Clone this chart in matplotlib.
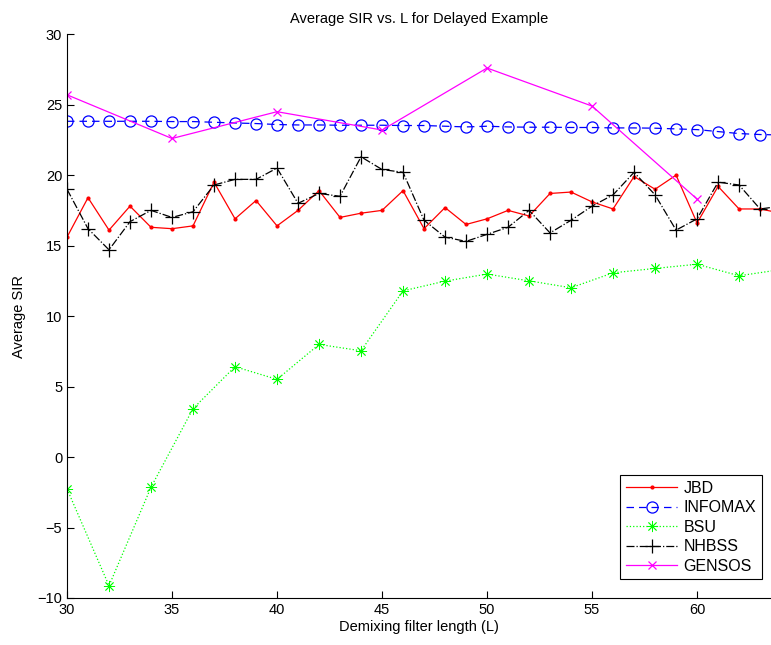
import numpy as np
import matplotlib.pyplot as plt

plt.rcParams['font.family'] = ['Liberation Sans', 'DejaVu Sans']
plt.rcParams['font.size'] = 10.5

# filter lengths
L_all = np.arange(30, 65)
L_bsu = np.arange(30, 65, 2)
L_gen = np.arange(30, 61, 5)

jbd = [15.6, 18.4, 16.1, 17.8, 16.3, 16.2, 16.4, 19.5, 16.9, 18.2,
       16.4, 17.5, 18.9, 17.0, 17.3, 17.5, 18.9, 16.2, 17.7, 16.5,
       16.9, 17.5, 17.1, 18.7, 18.8, 18.1, 17.6, 19.9, 19.0, 20.0,
       16.6, 19.2, 17.6, 17.6, 17.3]
infomax = [23.82, 23.82, 23.82, 23.82, 23.82, 23.80, 23.80, 23.75, 23.70, 23.66,
           23.59, 23.56, 23.56, 23.54, 23.54, 23.54, 23.52, 23.52, 23.47, 23.42,
           23.47, 23.42, 23.40, 23.40, 23.38, 23.38, 23.35, 23.35, 23.33, 23.28,
           23.23, 23.09, 22.95, 22.88, 22.85]
bsu = [-2.26, -9.13, -2.14, 3.43, 6.41, 5.51, 7.99, 7.54, 11.79, 12.48,
       12.98, 12.50, 12.01, 13.07, 13.38, 13.68, 12.86, 13.3]
nhbss = [19.0, 16.2, 14.7, 16.7, 17.5, 17.0, 17.4, 19.3, 19.7, 19.7,
         20.5, 18.0, 18.7, 18.5, 21.3, 20.4, 20.2, 16.8, 15.6, 15.3,
         15.8, 16.3, 17.5, 15.9, 16.8, 17.8, 18.6, 20.2, 18.6, 16.1,
         16.9, 19.5, 19.3, 17.6, 17.8]
gensos = [25.7, 22.6, 24.5, 23.2, 27.6, 24.9, 18.3]

fig = plt.figure(figsize=(7.71, 6.45), dpi=100)
ax = fig.add_axes([0.0869, 0.0729, 0.9131, 0.8741])

# 8-armed asterisk like the classic '*' marker
asterisk = (8, 2, 0)

ax.plot(L_all, jbd, '-', color='#ff0000', lw=0.9, marker='.', ms=4, label='JBD')
ax.plot(L_all, infomax, '--', color='#0000ff', lw=0.9, marker='o', ms=8,
        mfc='none', mew=0.9, dashes=(6, 4), label='INFOMAX')
ax.plot(L_bsu, bsu, ':', color='#00ff00', lw=0.9, marker=asterisk, ms=8,
        mew=0.6, label='BSU')
ax.plot(L_all, nhbss, '-.', color='black', lw=0.9, marker='+', ms=10,
        mew=0.9, label='NHBSS')
ax.plot(L_gen, gensos, '-', color='#ff00ff', lw=0.9, marker='x', ms=6,
        mew=0.9, label='GENSOS')

ax.set_xlim(30, 63.52)
ax.set_ylim(-10, 30)
ax.set_xticks(np.arange(30, 61, 5))
ax.set_yticks(np.arange(-10, 31, 5))
ax.tick_params(direction='in', length=5, width=0.8)
for side in ('top', 'right'):
    ax.spines[side].set_visible(False)
for side in ('left', 'bottom'):
    ax.spines[side].set_linewidth(0.8)

ax.set_title('Average SIR vs. L for Delayed Example', fontsize=10.5, pad=8)
ax.set_xlabel('Demixing filter length (L)', labelpad=2)
ax.set_ylabel('Average SIR', labelpad=8)

leg = ax.legend(loc='lower right', bbox_to_anchor=(0.988, 0.102),
                bbox_transform=fig.transFigure, fancybox=False, framealpha=1,
                edgecolor='black', handlelength=3.2, borderaxespad=0,
                labelspacing=0.28, handletextpad=0.4, borderpad=0.35,
                fontsize=11.5)
leg.get_frame().set_linewidth(0.8)

fig.savefig('out.png', dpi=100)
